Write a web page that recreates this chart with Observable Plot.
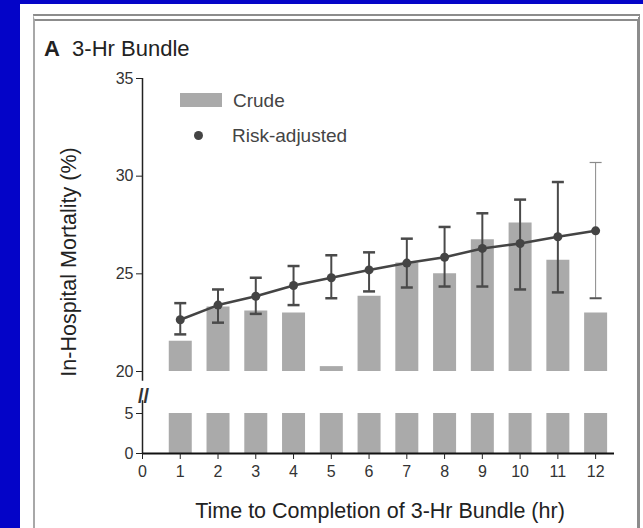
<!DOCTYPE html>
<html><head><meta charset="utf-8">
<script src="https://cdn.jsdelivr.net/npm/d3@7"></script>
<script src="https://cdn.jsdelivr.net/npm/@observablehq/plot@0.6"></script>
<style>
html,body{margin:0;padding:0;}
body{width:643px;height:528px;background:#0404c8;position:relative;overflow:hidden;font-family:"Liberation Sans",Arial,sans-serif;}
#panel{position:absolute;left:20px;top:4px;right:0;bottom:0;background:#fff;}
#frame{position:absolute;left:33px;top:14px;width:602px;height:540px;border-left:2px solid #a8a8a8;border-right:3px solid #8c8c8c;border-top:7px double #8c8c8c;}
.chart{position:absolute;left:0;top:0;}
.t{position:absolute;white-space:nowrap;line-height:1;color:#222;}
#swatch{position:absolute;left:180px;top:93px;width:42px;height:14px;background:#aaaaaa;}
#ldot{position:absolute;left:193.5px;top:130.5px;width:9px;height:9px;border-radius:50%;background:#444;}
</style></head>
<body>
<div id="panel"></div>
<div id="frame"></div>
<div id="lower" class="chart"></div>
<div id="upper" class="chart"></div>
<div class="t" style="left:44px;top:38px;font-size:22px;"><b>A</b>&nbsp; 3-Hr Bundle</div>
<div id="swatch"></div>
<div class="t" style="left:233px;top:91px;font-size:19px;color:#444;">Crude</div>
<div id="ldot"></div>
<div class="t" style="left:232px;top:126px;font-size:19px;color:#444;">Risk-adjusted</div>
<div class="t" style="left:70px;top:262px;font-size:21.5px;transform:translate(-50%,-50%) rotate(-90deg);">In-Hospital Mortality (%)</div>
<div class="t" style="left:380px;top:512px;font-size:21.5px;transform:translate(-50%,-50%);">Time to Completion of 3-Hr Bundle (hr)</div>
<script>
const hours    = [1, 2, 3, 4, 5, 6, 7, 8, 9, 10, 11, 12];
const crude    = [21.55, 23.3, 23.1, 23.0, 20.25, 23.85, 25.55, 25.0, 26.75, 27.6, 25.7, 23.0];
const adjusted = [22.65, 23.4, 23.85, 24.4, 24.8, 25.2, 25.55, 25.85, 26.3, 26.55, 26.9, 27.2];
const ciLow    = [21.9, 22.5, 22.95, 23.4, 23.75, 24.1, 24.3, 24.35, 24.35, 24.2, 24.05, 23.75];
const ciHigh   = [23.5, 24.2, 24.8, 25.4, 25.95, 26.1, 26.8, 27.4, 28.1, 28.8, 29.7, 30.7];
const xTicks   = [0, 1, 2, 3, 4, 5, 6, 7, 8, 9, 10, 11, 12];
const yTicksLow  = [0, 5];
const yTicksHigh = [20, 25, 30, 35];
const yLowDomain  = [0, 5];
const yHighDomain = [20, 35];
const xMax = 12.5;

const rows = hours.map((h, i) => ({hour: h, crude: crude[i], adj: adjusted[i], lo: ciLow[i], hi: ciHigh[i]}));
const last = hours[hours.length - 1];
const main = rows.filter(d => d.hour !== last);
const tail = rows.filter(d => d.hour === last);

const cap = {draw(ctx, size) { const w = Math.sqrt(size / Math.PI); ctx.moveTo(-w, 0); ctx.lineTo(w, 0); }};

const W = 643, H = 528;
const common = {
  width: W, height: H, marginLeft: 142, marginRight: 29,
  style: {background: "transparent", color: "#333", fontFamily: "Liberation Sans, Arial, sans-serif"}
};
const barColor = "#aaaaaa", barW = 23;

// upper segment 20–35
const upper = Plot.plot({
  ...common,
  marginTop: 78, marginBottom: H - 371,
  x: {domain: [0, xMax], axis: null},
  y: {domain: yHighDomain},
  marks: [
    Plot.ruleX(rows, {x: "hour", y1: yHighDomain[0], y2: "crude", stroke: barColor, strokeWidth: barW}),
    Plot.ruleX([0], {y1: yHighDomain[0] - 0.5, y2: yHighDomain[1], stroke: "#222", strokeWidth: 1.5}),
    Plot.ruleX(main, {x: "hour", y1: "lo", y2: "hi", stroke: "#4a4a4a", strokeWidth: 2}),
    Plot.dot(main, {x: "hour", y: "lo", symbol: cap, r: 6, stroke: "#4a4a4a", strokeWidth: 2.5}),
    Plot.dot(main, {x: "hour", y: "hi", symbol: cap, r: 6, stroke: "#4a4a4a", strokeWidth: 2.5}),
    Plot.ruleX(tail, {x: "hour", y1: "lo", y2: "hi", stroke: "#8a8a8a", strokeWidth: 1}),
    Plot.dot(tail, {x: "hour", y: "lo", symbol: cap, r: 6, stroke: "#555", strokeWidth: 2}),
    Plot.dot(tail, {x: "hour", y: "hi", symbol: cap, r: 6, stroke: "#8a8a8a", strokeWidth: 1.2}),
    Plot.line(rows, {x: "hour", y: "adj", stroke: "#444", strokeWidth: 2.5}),
    Plot.dot(rows, {x: "hour", y: "adj", r: 4.5, fill: "#444"}),
    Plot.axisY({ticks: yTicksHigh, tickFormat: "d", tickSize: 6, tickPadding: 3, fontSize: 16, label: null, stroke: "#222"})
  ]
});

// lower segment 0–5 with x axis
const lower = Plot.plot({
  ...common,
  marginTop: 413, marginBottom: H - 453,
  x: {domain: [0, xMax]},
  y: {domain: yLowDomain},
  marks: [
    Plot.ruleX(rows, {x: "hour", y1: yLowDomain[0], y2: yLowDomain[1], stroke: barColor, strokeWidth: barW}),
    Plot.ruleX([0], {y1: yLowDomain[0], y2: yLowDomain[1] + 1.6, stroke: "#222", strokeWidth: 1.5}),
    Plot.text(["//"], {frameAnchor: "top-left", textAnchor: "middle", text: d => d, dy: -25, dx: 1, fontSize: 20, fontWeight: "bold", fill: "#333"}),
    Plot.ruleY([yLowDomain[0]], {stroke: "#111", strokeWidth: 2}),
    Plot.axisY({ticks: yTicksLow, tickFormat: "d", tickSize: 6, tickPadding: 3, fontSize: 16, label: null, stroke: "#222"}),
    Plot.axisX({ticks: xTicks, tickFormat: "d", tickSize: 6, tickPadding: 6, fontSize: 16, label: null, stroke: "#222"})
  ]
});

document.getElementById("upper").appendChild(upper);
document.getElementById("lower").appendChild(lower);
</script>
</body></html>
